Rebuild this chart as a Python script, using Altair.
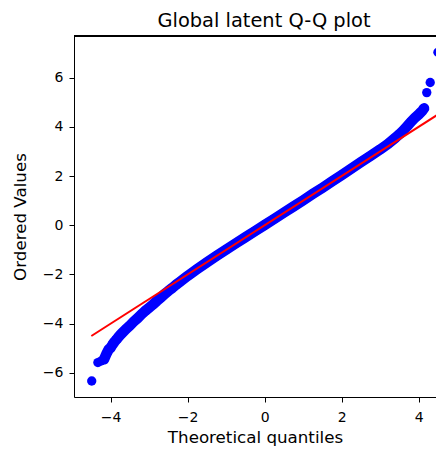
import altair as alt
import pandas as pd

# Theoretical quantiles and ordered values
theoretical = [-4.49, -4.33, -4.25, -4.17, -4.10, -4.05, -4.00, -3.95, -3.90, -3.85,
               -3.80, -3.75, -3.70, -3.60, -3.50, -3.40, -3.30, -3.20, -3.10, -3.00,
               -2.90, -2.80, -2.70, -2.60, -2.50, -2.40, -2.30, -2.20, -2.10, -2.00,
               -1.75, -1.50, -1.25, -1.00, -0.75, -0.50, -0.25, 0.00, 0.25, 0.50,
               0.75, 1.00, 1.25, 1.50, 1.75, 2.00, 2.25, 2.50, 2.75, 3.00,
               3.20, 3.40, 3.50, 3.60, 3.70, 3.80, 3.90, 4.00, 4.05, 4.10,
               4.14, 4.21, 4.30, 4.50]
ordered = [-6.33, -5.58, -5.52, -5.45, -5.20, -5.05, -4.98, -4.85, -4.74, -4.65,
           -4.55, -4.46, -4.38, -4.22, -4.08, -3.92, -3.78, -3.62, -3.48, -3.35,
           -3.22, -3.08, -2.95, -2.80, -2.67, -2.55, -2.42, -2.30, -2.18, -2.06,
           -1.78, -1.51, -1.25, -0.99, -0.74, -0.49, -0.24, 0.01, 0.26, 0.51,
           0.76, 1.01, 1.27, 1.52, 1.78, 2.04, 2.30, 2.56, 2.82, 3.08,
           3.30, 3.56, 3.70, 3.85, 4.02, 4.20, 4.36, 4.50, 4.58, 4.66,
           4.75, 5.39, 5.80, 7.03]

# Fitted reference line endpoints
fit_x = [-4.5, 4.5]
fit_y = [-4.5, 4.5]

x_ticks = [-4, -2, 0, 2, 4]
y_ticks = [-6, -4, -2, 0, 2, 4, 6]

pts = pd.DataFrame({"tq": theoretical, "ov": ordered})
fit = pd.DataFrame({"tq": fit_x, "ov": fit_y})

W, H = 362, 361
FONT = "DejaVu Sans"
MINUS_LABEL = "(datum.value < 0 ? '\u2212' : '') + format(abs(datum.value), 'd')"

xscale = alt.Scale(domain=[-4.95, 4.45], nice=False, zero=False)
yscale = alt.Scale(domain=[-6.98, 7.69], nice=False, zero=False)

xaxis = alt.Axis(values=x_ticks, title="Theoretical quantiles", grid=False,
                 tickColor="black", domainColor="black", labelColor="black",
                 titleColor="black", labelFont=FONT, titleFont=FONT,
                 labelFontSize=14, titleFontSize=16.7, titleFontWeight="normal",
                 tickSize=5, labelPadding=8, titlePadding=5,
                 labelExpr=MINUS_LABEL)
yaxis = alt.Axis(values=y_ticks, title="Ordered Values", grid=False,
                 tickColor="black", domainColor="black", labelColor="black",
                 titleColor="black", labelFont=FONT, titleFont=FONT,
                 labelFontSize=14, titleFontSize=16.7, titleFontWeight="normal",
                 tickSize=5, labelPadding=6, titlePadding=13,
                 labelExpr=MINUS_LABEL)

band = alt.Chart(pts).transform_filter(
    (alt.datum.tq >= -4.17) & (alt.datum.tq <= 4.14)
).mark_line(color="#0000ff", strokeWidth=10.5, strokeCap="round",
            strokeJoin="round").encode(
    x=alt.X("tq:Q", scale=xscale, axis=xaxis),
    y=alt.Y("ov:Q", scale=yscale, axis=yaxis),
)

dots = alt.Chart(pts).mark_circle(color="#0000ff", opacity=1, size=87).encode(
    x=alt.X("tq:Q", scale=xscale),
    y=alt.Y("ov:Q", scale=yscale),
)

line = alt.Chart(fit).mark_line(color="#ff0000", strokeWidth=2).encode(
    x=alt.X("tq:Q", scale=xscale),
    y=alt.Y("ov:Q", scale=yscale),
)

top_border = alt.Chart(pts).mark_rule(color="black", strokeWidth=1).encode(
    x=alt.value(0), x2=alt.value(W + 10), y=alt.value(0)
)

chart = alt.layer(band, dots, line, top_border).properties(
    width=W, height=H,
    title=alt.TitleParams("Global latent Q-Q plot", font=FONT, fontSize=19.4,
                          fontWeight="normal", color="black", anchor="middle",
                          dx=9, offset=4),
    autosize=alt.AutoSizeParams(type="none"),
    padding={"left": 66, "top": 28, "right": 0, "bottom": 49},
).configure_view(stroke=None).configure(background="white")

chart.save("out.html", embed_options={"renderer": "svg", "actions": False})
